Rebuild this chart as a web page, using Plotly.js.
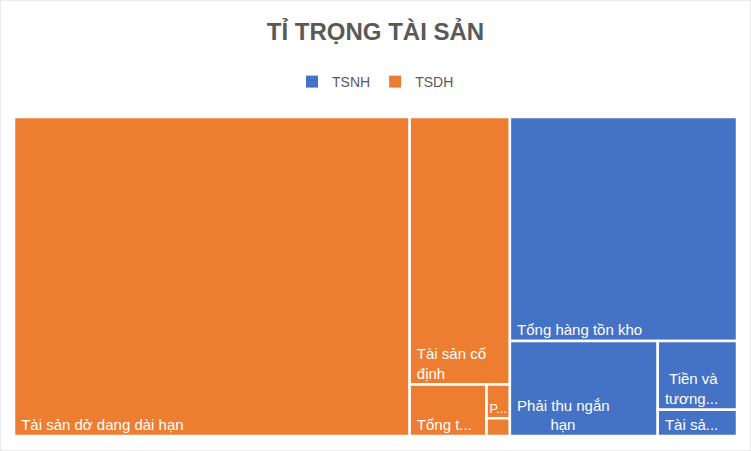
<!DOCTYPE html>
<html><head><meta charset="utf-8">
<script src="https://cdn.plot.ly/plotly-3.0.1.min.js"></script>
<style>html,body{margin:0;padding:0;background:#fff}#chart{width:751px;height:451px}</style>
</head><body><div id="chart"></div>
<script>
// Groups
const groups = ["TSNH", "TSDH"];
const groupColors = ["#4472C4", "#ED7D31"];

// Leaf items (values: share of total assets, %, read from tile areas)
const labels = [
  "Tài sản dở dang dài hạn", "Tài sản cố định", "Tổng tài sản dài hạn khác", "Phải thu dài hạn", "Đầu tư tài chính dài hạn",
  "Tổng hàng tồn kho", "Phải thu ngắn hạn", "Tiền và tương đương tiền", "Tài sản ngắn hạn khác"
];
const parents = ["TSDH", "TSDH", "TSDH", "TSDH", "TSDH", "TSNH", "TSNH", "TSNH", "TSNH"];
const values = [54.6, 11.6, 1.71, 0.34, 0.18, 22.0, 6.08, 2.36, 0.90];
// Label text as displayed (truncated / wrapped as in the reference)
const shownText = [
  "&nbsp;Tài sản dở dang dài hạn", "&nbsp;Tài sản cố<br>&nbsp;định", "&nbsp;Tổng t...", "P...", "",
  "&nbsp;Tổng hàng tồn kho", "&nbsp;Phải thu ngắn<br>&nbsp;&nbsp;&nbsp;&nbsp;&nbsp;&nbsp;&nbsp;&nbsp;&nbsp;hạn", "&nbsp;&nbsp;Tiền và<br>&nbsp;tương...", "&nbsp;Tài sả..."
];

const allLabels = groups.concat(labels);
const allParents = groups.map(() => "").concat(parents);
const allValues = groups.map(() => 0).concat(values);
const allText = groups.map(() => "").concat(shownText);
const allColors = groupColors.concat(parents.map(p => groupColors[groups.indexOf(p)]));

const treemap = {
  type: "treemap",
  labels: allLabels,
  parents: allParents,
  values: allValues,
  branchvalues: "remainder",
  text: allText,
  textinfo: "text",
  textposition: "bottom left",
  sort: true,
  tiling: {packing: "squarify", squarifyratio: 1, pad: 0},
  pathbar: {visible: false},
  marker: {colors: allColors, line: {color: "#ffffff", width: 2.5}, pad: {t: 0, l: 0, r: 0, b: 0}},
  leaf: {opacity: 1},
  insidetextfont: {family: "Liberation Sans, Arial, sans-serif", size: 15, color: "#ffffff"},
  hoverinfo: "label+value",
  domain: {x: [14/751, 737/751], y: [1 - 436/451, 1 - 117/451]},
  showlegend: false
};

const legendTraces = groups.map((g, i) => ({
  type: "scatter", mode: "markers", x: [null], y: [null], name: g,
  marker: {symbol: "square", size: 11, color: groupColors[i]},
  showlegend: true, hoverinfo: "skip"
}));

const layout = {
  width: 751, height: 451,
  margin: {l: 0, r: 0, t: 0, b: 0},
  paper_bgcolor: "#ffffff", plot_bgcolor: "#ffffff",
  title: {text: "<b>TỈ TRỌNG TÀI SẢN</b>", x: 0.5, xanchor: "center", y: 1 - 32/451, yanchor: "middle",
          font: {family: "Liberation Sans, Arial, sans-serif", size: 24, color: "#595959"}},
  showlegend: true,
  legend: {orientation: "h", x: 0.5, xanchor: "center", y: 1 - 82/451, yanchor: "middle",
           font: {family: "Liberation Sans, Arial, sans-serif", size: 14, color: "#595959"},
           itemsizing: "constant", traceorder: "normal"},
  xaxis: {visible: false}, yaxis: {visible: false},
  shapes: [{type: "rect", xref: "paper", yref: "paper", x0: 0, x1: 1, y0: 0, y1: 1,
            line: {color: "#D9D9D9", width: 1}, fillcolor: "rgba(0,0,0,0)"}]
};

Plotly.newPlot("chart", legendTraces.concat([treemap]), layout, {displayModeBar: false, staticPlot: true});
</script></body></html>
